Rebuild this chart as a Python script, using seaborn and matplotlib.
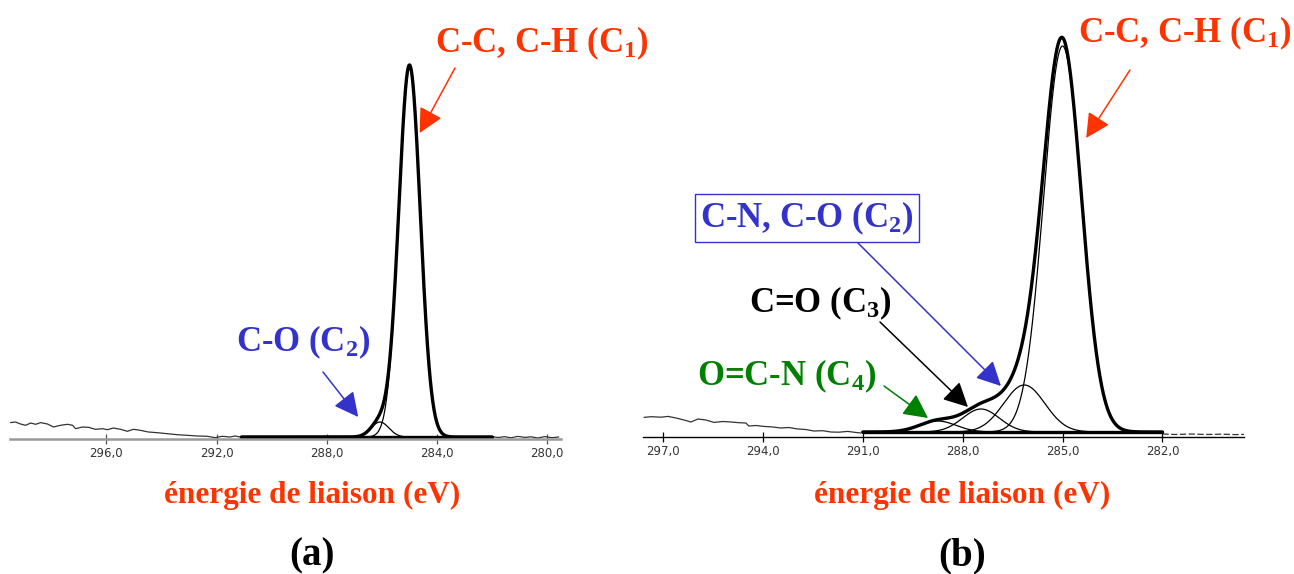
import matplotlib
matplotlib.use("Agg")
import matplotlib.pyplot as plt
import numpy as np
import pandas as pd
import seaborn as sns

# --- données (intensités en unités arbitraires) ---

# (a) spectre brut hors zone d'ajustement
raw_a_left_e = [299.48, 299.30, 299.12, 298.93, 298.75, 298.57, 298.39, 298.14, 297.92,
                297.67, 297.41, 297.23, 297.12, 296.87, 296.65, 296.40, 296.14, 295.96,
                295.75, 295.49, 295.24, 295.02, 294.77, 294.48, 294.15, 293.79, 293.43,
                293.07, 292.70, 292.34, 292.05, 291.80, 291.51, 291.33, 291.14]
raw_a_left_i = [16.4, 17.0, 15.0, 13.7, 16.0, 14.7, 16.4, 15.0, 12.0,
                13.7, 14.7, 13.7, 10.3, 12.0, 11.7, 9.7, 10.3, 9.3,
                11.0, 9.7, 7.7, 9.7, 8.7, 7.0, 6.3, 5.3, 4.3,
                3.7, 3.0, 2.7, 1.3, 2.7, 2.0, 3.0, 2.0]
raw_a_right_e = [282.04, 281.79, 281.54, 281.32, 281.07, 280.81, 280.59, 280.34, 280.09, 279.83, 279.58]
raw_a_right_i = [2.5, 1.5, 2.3, 1.2, 2.6, 1.6, 2.2, 1.0, 2.4, 1.3, 2.0]

# (a) composantes : C1, C2
comp_a_names = ["C1", "C2"]
comp_a_center = [285.0, 286.07]
comp_a_height = [372.0, 15.0]
comp_a_sigma = [0.39, 0.32]
fit_a_range = (291.1, 282.0)
fit_a_base = 2.0

# (b) spectre brut hors zone d'ajustement
raw_b_left_e = [297.57, 297.36, 297.06, 296.85, 296.61, 296.37, 296.16, 295.95, 295.71,
                295.47, 295.20, 294.96, 294.72, 294.51, 294.42, 294.21, 293.97, 293.70,
                293.46, 293.22, 292.95, 292.71, 292.47, 292.20, 291.96, 291.72, 291.45,
                291.20, 291.05]
raw_b_left_i = [19.6, 20.3, 19.8, 20.6, 19.0, 17.0, 15.0, 18.0, 17.0,
                14.6, 15.5, 15.0, 14.3, 14.0, 11.0, 11.5, 10.6, 10.0,
                9.0, 9.5, 8.0, 7.5, 6.0, 6.3, 5.0, 4.8, 5.6,
                4.5, 4.0]
raw_b_right_e = [282.0, 281.6, 281.14, 280.69, 280.24, 279.79, 279.55]
raw_b_right_i = [3.0, 2.5, 3.0, 2.5, 2.8, 2.4, 2.6]

# (b) composantes : C1, C2, C3, C4
comp_b_names = ["C1", "C2", "C3", "C4"]
comp_b_center = [285.0, 286.15, 287.45, 288.75]
comp_b_height = [386.0, 47.0, 23.0, 11.0]
comp_b_sigma = [0.57, 0.62, 0.55, 0.55]
fit_b_range = (291.0, 282.0)
fit_b_base = 5.0

ticks_a = [296, 292, 288, 284, 280]
ticks_b = [297, 294, 291, 288, 285, 282]

RED = "#FF3300"
BLUE = "#3333CC"
GREEN = "#008000"

W, H = 1294, 574

sns.set_theme(style="white")
plt.rcParams["font.family"] = ["Liberation Serif", "DejaVu Serif"]
plt.rcParams["mathtext.fontset"] = "custom"
plt.rcParams["mathtext.rm"] = "Liberation Serif:bold"
plt.rcParams["mathtext.bf"] = "Liberation Serif:bold"
plt.rcParams["mathtext.default"] = "rm"


def fit_curves(names, centers, heights, sigmas, e_range, base):
    """Composantes gaussiennes + enveloppe sur la zone d'ajustement."""
    e = np.linspace(e_range[0], e_range[1], 800)
    comps = {}
    for n, c, h, s in zip(names, centers, heights, sigmas):
        comps[n] = h * np.exp(-((e - c) ** 2) / (2 * s ** 2))
    env = base + sum(comps.values())
    return e, comps, env


def draw_panel(ax, raw_parts, names, centers, heights, sigmas, e_range, base,
               xlim, ylim, ticks, spine_color, spine_lw, raw_right_dash=False):
    e, comps, env = fit_curves(names, centers, heights, sigmas, e_range, base)

    (le, li), (re_, ri) = raw_parts
    sns.lineplot(x=le, y=li, ax=ax, color="#333333", lw=0.9, sort=False, estimator=None)
    sns.lineplot(x=re_, y=ri, ax=ax, color="#333333", lw=0.9, sort=False, estimator=None,
                 linestyle=(0, (5, 2)) if raw_right_dash else "-")

    for n in names:
        y = base + comps[n]
        mask = comps[n] > 0.05
        sns.lineplot(x=e[mask], y=y[mask], ax=ax, color="black", lw=0.9,
                     sort=False, estimator=None)

    sns.lineplot(x=e, y=np.full_like(e, base), ax=ax, color="black", lw=2.4,
                 sort=False, estimator=None)
    sns.lineplot(x=e, y=env, ax=ax, color="black", lw=2.4, sort=False, estimator=None)

    ax.set_xlim(*xlim)
    ax.set_ylim(*ylim)
    for side in ["top", "left", "right"]:
        ax.spines[side].set_visible(False)
    ax.spines["bottom"].set_color(spine_color)
    ax.spines["bottom"].set_linewidth(spine_lw)
    ax.set_yticks([])
    ax.set_xticks(ticks)
    ax.set_xticklabels([f"{t:.1f}".replace(".", ",") for t in ticks],
                       family=["Liberation Sans Narrow", "DejaVu Sans"], fontsize=8.5,
                       color="#333333")
    ax.tick_params(axis="x", direction="inout", length=7, width=0.9, pad=2,
                   color=spine_color if spine_color != "#999999" else "#555555", bottom=True)
    ax.set_xlabel("")
    ax.set_ylabel("")
    ax.grid(False)
    ax.patch.set_alpha(0)


def ftext(fig, x, y, s, **kw):
    fig.text(x / W, 1 - y / H, s, fontweight="bold", **kw)


def arrow(ax, tip, start, color):
    ax.annotate("", xy=tip, xycoords="data", xytext=(start[0], H - start[1]),
                textcoords="figure pixels", annotation_clip=False,
                arrowprops=dict(arrowstyle="-|>,head_length=0.75,head_width=0.38",
                                color=color, lw=1.1, shrinkA=0, shrinkB=0,
                                mutation_scale=20))


fig = plt.figure(figsize=(W / 100, H / 100), dpi=100)
ax_a = fig.add_axes([10 / W, 1 - 439 / H, 551 / W, 419 / H])
ax_b = fig.add_axes([643 / W, 1 - 437 / H, 601 / W, 417 / H])

draw_panel(ax_a, ((raw_a_left_e, raw_a_left_i), (raw_a_right_e, raw_a_right_i)),
           comp_a_names, comp_a_center, comp_a_height, comp_a_sigma, fit_a_range, fit_a_base,
           (299.5, 279.5), (0, 419), ticks_a, "#999999", 1.8)
draw_panel(ax_b, ((raw_b_left_e, raw_b_left_i), (raw_b_right_e, raw_b_right_i)),
           comp_b_names, comp_b_center, comp_b_height, comp_b_sigma, fit_b_range, fit_b_base,
           (297.6, 279.55), (0, 417), ticks_b, "black", 1.0, raw_right_dash=True)

# --- étiquettes (a) ---
ftext(fig, 542, 52, r"C-C, C-H (C$_1$)", color=RED, fontsize=25, ha="center", va="baseline")
ftext(fig, 303, 351, r"C-O (C$_2$)", color=BLUE, fontsize=25, ha="center", va="baseline")
arrow(ax_a, (284.63, 306), (455, 68), RED)
arrow(ax_a, (286.86, 22), (323, 372), BLUE)

# --- étiquettes (b) ---
ftext(fig, 1185, 42, r"C-C, C-H (C$_1$)", color=RED, fontsize=25, ha="center", va="baseline")
ftext(fig, 807, 227, r"C-N, C-O (C$_2$)", color=BLUE, fontsize=25, ha="center", va="baseline",
      bbox=dict(boxstyle="square,pad=0.15", fc="white", ec=BLUE, lw=1.0))
ftext(fig, 820, 312, r"C=O (C$_3$)", color="black", fontsize=25, ha="center", va="baseline")
ftext(fig, 787, 385, r"O=C-N (C$_4$)", color=GREEN, fontsize=25, ha="center", va="baseline")
arrow(ax_b, (284.29, 299), (1130, 70), RED)
arrow(ax_b, (286.85, 51), (857, 242), BLUE)
arrow(ax_b, (287.84, 30), (880, 322), "black")
arrow(ax_b, (289.04, 19), (884, 386), GREEN)

# --- axes et titres ---
for cx, lab in [(312, "(a)"), (962, "(b)")]:
    ftext(fig, cx, 503, "énergie de liaison (eV)", color=RED, fontsize=22.5,
          ha="center", va="baseline")
    ftext(fig, cx, 565, lab, color="black", fontsize=28, ha="center", va="baseline")

fig.savefig("out.png", dpi=100)
plt.close(fig)
